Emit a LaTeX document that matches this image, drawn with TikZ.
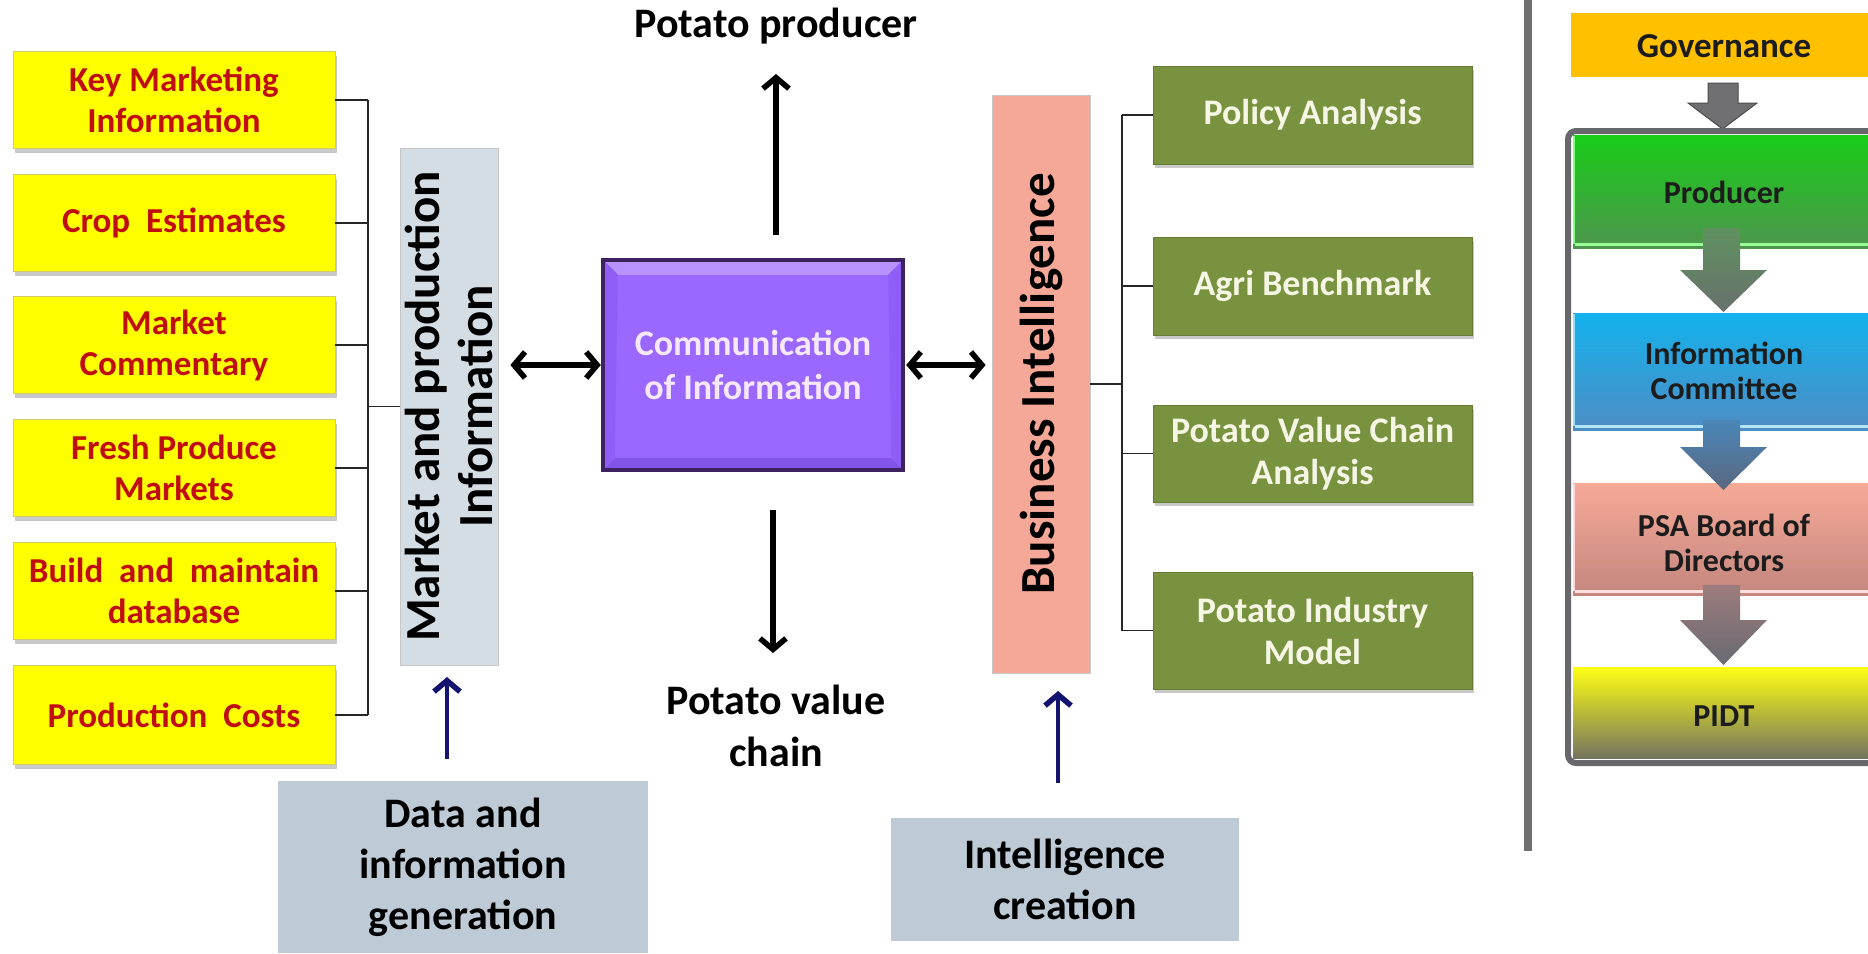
\documentclass[tikz,border=0pt]{standalone}
\usepackage{fontspec}
\setmainfont{Carlito}
\usetikzlibrary{arrows.meta,shadows,calc}

\definecolor{ybox}{RGB}{255,255,0}
\definecolor{yred}{RGB}{192,14,14}
\definecolor{ybord}{RGB}{205,205,110}
\definecolor{mpgray}{RGB}{212,220,228}
\definecolor{bisalmon}{RGB}{246,168,152}
\definecolor{purp}{RGB}{155,104,255}
\definecolor{purplight}{RGB}{184,146,255}
\definecolor{purpside}{RGB}{144,94,246}
\definecolor{purplow}{RGB}{130,84,232}
\definecolor{purpdark}{RGB}{60,34,96}
\definecolor{purptext}{RGB}{246,232,255}
\definecolor{olive}{RGB}{120,146,64}
\definecolor{olivetext}{RGB}{246,246,228}
\definecolor{srcgray}{RGB}{190,202,214}
\definecolor{navyarrow}{RGB}{20,20,112}
\definecolor{sepgray}{RGB}{112,112,114}
\definecolor{govorange}{RGB}{255,192,0}
\definecolor{framegray}{RGB}{104,104,108}
\definecolor{bandtext}{RGB}{28,28,28}

\begin{document}
\begin{tikzpicture}[x=1pt,y=-1pt,
  every node/.style={inner sep=0pt, align=center},
  softshadow/.style={drop shadow={shadow xshift=2pt,shadow yshift=-4pt,opacity=0.3,fill=black!70}},
  leafbox/.style={draw=ybord, line width=0.8pt, fill=ybox, text=yred,
    minimum width=322pt, minimum height=97pt,
    font=\fontsize{35}{41}\selectfont\bfseries, softshadow},
  tallbox/.style={rotate=90, draw=black!22, line width=0.8pt,
    minimum width=517pt, minimum height=98pt,
    font=\fontsize{49}{53}\selectfont\bfseries},
  greenbox/.style={fill=olive, draw=olive!85!black, line width=0.6pt, text=olivetext,
    minimum width=319pt, minimum height=98pt,
    font=\fontsize{36}{42}\selectfont\bfseries, softshadow},
  srcbox/.style={fill=srcgray, font=\fontsize{42}{51}\selectfont\bfseries},
  plainlabel/.style={font=\fontsize{42}{52}\selectfont\bfseries},
  bandlabel/.style={text=bandtext, font=\fontsize{32}{35}\selectfont\bfseries},
  link/.style={draw=black!85, line width=1.4pt},
  barb/.tip={Straight Barb[length=11pt,width=26pt,line width=5.5pt]},
  dblarrow/.style={line width=5.5pt, barb-barb},
  arrow/.style={line width=5.5pt, -barb},
  navyarrow/.style={line width=4.5pt, draw=navyarrow, -barb},
]
\useasboundingbox (0,0) rectangle (1868,953);

% ---------- left column: information sources ----------
\node[leafbox] (k1) at (174,100) {Key Marketing\\Information};
\node[leafbox] (k2) at (174,223) {Crop\ \ Estimates};
\node[leafbox] (k3) at (174,345) {Market\\Commentary};
\node[leafbox] (k4) at (174,468) {Fresh Produce\\Markets};
\node[leafbox] (k5) at (174,591) {Build\ \ and\ \ maintain\\database};
\node[leafbox, minimum height=99pt] (k6) at (174,715) {Production\ \ Costs};

\node[tallbox, fill=mpgray] (mp) at (449,406.5) {Market and production\\Information};

\coordinate (lbus) at (368,0);
\foreach \k in {k1,k2,k3,k4,k5,k6}
  \draw[link] (\k.east) -- (\k.east -| lbus);
\draw[link] (k1.east -| lbus) -- (k6.east -| lbus);
\draw[link] (mp.north) -- (mp.north -| lbus);

% ---------- centre: communication ----------
\node[fill=purp, minimum width=300pt, minimum height=210pt,
      text=purptext, font=\fontsize{36}{44}\selectfont\bfseries] (comm) at (753,365)
      {Communication\\of Information};
% bevelled edges of the centre box
\fill[purplight] ($(comm.north west)+(1,1)$) -- ($(comm.north east)+(-1,1)$)
  -- ($(comm.north east)+(-15,15)$) -- ($(comm.north west)+(15,15)$) -- cycle;
\fill[purplow] ($(comm.south west)+(1,-1)$) -- ($(comm.south east)+(-1,-1)$)
  -- ($(comm.south east)+(-12,-12)$) -- ($(comm.south west)+(12,-12)$) -- cycle;
\fill[purpside] ($(comm.north west)+(1,1)$) -- ($(comm.north west)+(15,15)$)
  -- ($(comm.south west)+(12,-12)$) -- ($(comm.south west)+(1,-1)$) -- cycle;
\fill[purpside] ($(comm.north east)+(-1,1)$) -- ($(comm.north east)+(-15,15)$)
  -- ($(comm.south east)+(-12,-12)$) -- ($(comm.south east)+(-1,-1)$) -- cycle;
\draw[purpdark, line width=3.5pt] (comm.north west) rectangle (comm.south east);

\node[plainlabel] (pp) at (776,26) {Potato producer};
\node[plainlabel] (pvc) at (776,726) {Potato value\\chain};

\coordinate (upfrom) at (776,235);
\coordinate (upto) at (776,74);
\draw[arrow] (upfrom) -- (upto);
\coordinate (dnfrom) at (773,510);
\coordinate (dnto) at (773,653);
\draw[arrow] (dnfrom) -- (dnto);

% ---------- right column: business intelligence ----------
\node[tallbox, fill=bisalmon, minimum width=578pt] (bi) at (1041,384) {Business Intelligence};

\node[greenbox] (g1) at (1312.5,115) {Policy Analysis};
\node[greenbox] (g2) at (1312.5,286) {Agri Benchmark};
\node[greenbox, minimum height=97pt] (g3) at (1312.5,453.5) {Potato Value Chain\\Analysis};
\node[greenbox, minimum height=117pt] (g4) at (1312.5,630.5) {Potato Industry\\Model};

\coordinate (rbus) at (1122,0);
\foreach \g in {g1,g2,g3,g4}
  \draw[link] (\g.west) -- (\g.west -| rbus);
\draw[link] (g1.west -| rbus) -- (g4.west -| rbus);
\draw[link] (bi.south) -- (bi.south -| rbus);

\draw[dblarrow, shorten <=12pt, shorten >=2pt] (comm.west -| mp.south) -- (comm.west);
\draw[dblarrow, shorten <=3pt, shorten >=6pt] (comm.east) -- (comm.east -| bi.north);

% ---------- bottom: generation and creation ----------
\node[srcbox, minimum width=370pt, minimum height=172pt] (gen) at (463,867)
      {Data and\\information\\generation};
\node[srcbox, minimum width=348pt, minimum height=123pt] (cre) at (1065,879.5)
      {Intelligence\\creation};

\coordinate (genup) at (447,759);
\coordinate (genupto) at (447,677);
\draw[navyarrow] (genup) -- (genupto);
\coordinate (creup) at (1058,783);
\coordinate (creupto) at (1058,691);
\draw[navyarrow] (creup) -- (creupto);

% ---------- governance panel ----------
\draw[line width=8pt, sepgray] (1528,0) -- (1528,851);

\node[fill=govorange, minimum width=309pt, minimum height=64pt] (gov) at (1725.5,45) {};
\node[text=bandtext, font=\fontsize{35}{40}\selectfont\bfseries] (govtext) at (1724,46) {Governance};

\filldraw[fill=sepgray, draw=black!70, line width=1pt]
  (1708,83) -- (1738,83) -- (1738,103) -- (1757,103) -- (1722.5,129) -- (1688,103) -- (1708,103) -- cycle;

\filldraw[fill=white, draw=framegray, line width=6pt, rounded corners=8pt]
  (1568,131) rectangle (1900,763);

\shade[top color={rgb,255:red,24;green,204;blue,24}, bottom color={rgb,255:red,78;green,150;blue,78}]
  (1573,135) rectangle (1868,248);
\draw[green!40!white, line width=3pt] (1575,244) -- (1868,244);
\draw[green!50!white, line width=2pt] (1574,136) -- (1574,244);
\node[bandlabel] (prod) at (1724,192) {Producer};

\shade[top color={rgb,255:red,20;green,178;blue,236}, bottom color={rgb,255:red,78;green,140;blue,196}]
  (1573,313) rectangle (1868,430);
\draw[cyan!30!white, line width=3pt] (1575,426) -- (1868,426);
\draw[cyan!40!white, line width=2pt] (1574,314) -- (1574,426);
\node[bandlabel] (ic) at (1724,371) {Information\\Committee};

\shade[top color={rgb,255:red,246;green,170;blue,152}, bottom color={rgb,255:red,196;green,134;blue,126}]
  (1573,483) rectangle (1868,595);
\draw[red!12!white, line width=3pt] (1575,591) -- (1868,591);
\draw[red!15!white, line width=2pt] (1574,484) -- (1574,591);
\node[bandlabel] (psa) at (1724,543) {PSA Board of\\Directors};

\shade[top color={rgb,255:red,255;green,255;blue,20}, bottom color={rgb,255:red,116;green,116;blue,96}]
  (1573,667) rectangle (1868,758);
\node[bandlabel] (pidt) at (1724,716) {PIDT};

\shade[top color={rgb,255:red,96;green,146;blue,96}, bottom color={rgb,255:red,104;green,112;blue,108}]
  (1703,228) -- (1740,228) -- (1740,270) -- (1767,270) -- (1723.5,312) -- (1680,270) -- (1703,270) -- cycle;
\shade[top color={rgb,255:red,74;green,134;blue,184}, bottom color={rgb,255:red,90;green,104;blue,128}]
  (1703,420) -- (1740,420) -- (1740,447) -- (1767,447) -- (1723.5,490) -- (1680,447) -- (1703,447) -- cycle;
\shade[top color={rgb,255:red,156;green,124;blue,124}, bottom color={rgb,255:red,104;green,106;blue,114}]
  (1703,585) -- (1740,585) -- (1740,620) -- (1767,620) -- (1723.5,665) -- (1680,620) -- (1703,620) -- cycle;
\end{tikzpicture}
\end{document}
